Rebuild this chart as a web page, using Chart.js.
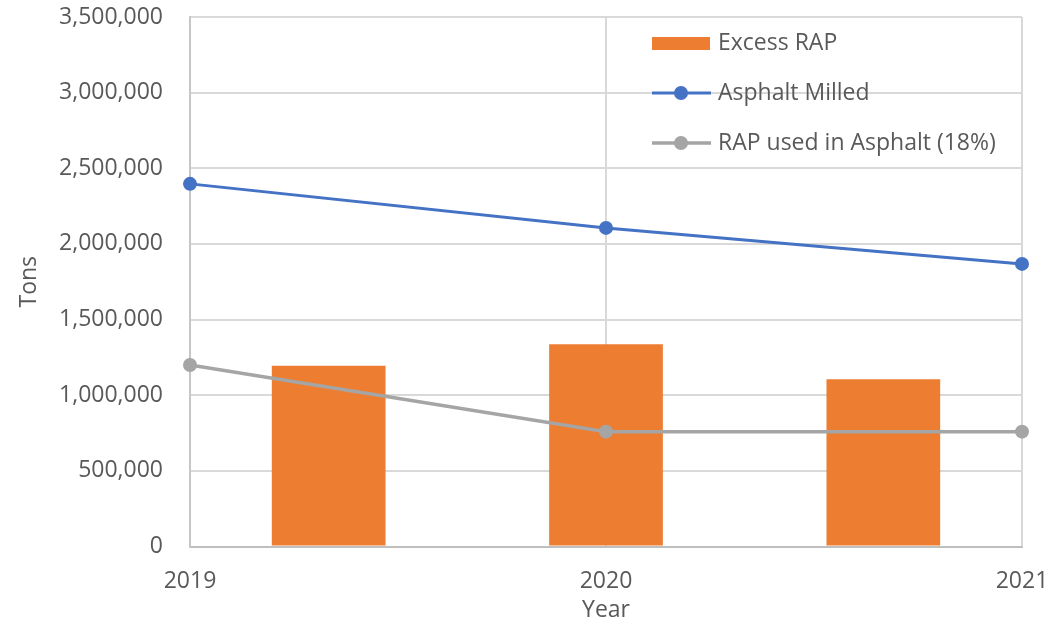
<!DOCTYPE html>
<html>
<head>
<meta charset="utf-8">
<script src="https://cdn.jsdelivr.net/npm/chart.js@4/dist/chart.umd.min.js"></script>
<style>
  html, body { margin: 0; padding: 0; background: #fff; }
</style>
</head>
<body>
<canvas id="chart" width="1059" height="627"></canvas>
<script>
const years = ['2019', '2020', '2021'];
const excessRap = [1195000, 1337000, 1106000];
const asphaltMilled = [2397000, 2106000, 1868000];
const rapUsed = [1200000, 759000, 759000];
const yMax = 3500000;
const yStep = 500000;

const textColor = '#595959';
const gridColor = '#d9d9d9';
const fontFamily = '"Open Sans", sans-serif';
const fontSize = 23;

// legend drawn inside the plot area, top right
const insideLegend = {
  id: 'insideLegend',
  afterDraw(chart) {
    const { ctx, chartArea } = chart;
    const x0 = chartArea.right - 370;
    ctx.save();
    ctx.font = `${fontSize}px ${fontFamily}`;
    ctx.textBaseline = 'middle';
    chart.data.datasets.forEach((ds, i) => {
      const y = chartArea.top + 26 + i * 50;
      if (ds.type === 'bar') {
        ctx.fillStyle = ds.backgroundColor;
        ctx.fillRect(x0, y - 6, 58, 13);
      } else {
        ctx.strokeStyle = ds.borderColor;
        ctx.lineWidth = ds.borderWidth;
        ctx.beginPath();
        ctx.moveTo(x0, y);
        ctx.lineTo(x0 + 59, y);
        ctx.stroke();
        ctx.fillStyle = ds.pointBackgroundColor;
        ctx.beginPath();
        ctx.arc(x0 + 29, y, ds.pointRadius, 0, Math.PI * 2);
        ctx.fill();
      }
      ctx.fillStyle = textColor;
      ctx.fillText(ds.label, x0 + 66, y);
    });
    ctx.restore();
  }
};

new Chart(document.getElementById('chart'), {
  type: 'bar',
  data: {
    labels: years,
    datasets: [
      {
        type: 'bar',
        label: 'Excess RAP',
        data: excessRap,
        backgroundColor: '#ED7D31',
        xAxisID: 'x',
        grouped: false,
        barPercentage: 0.41,
        categoryPercentage: 1,
        order: 2,
      },
      {
        type: 'line',
        label: 'Asphalt Milled',
        data: asphaltMilled,
        borderColor: '#4472C4',
        backgroundColor: '#4472C4',
        pointBackgroundColor: '#4472C4',
        pointBorderWidth: 0,
        pointRadius: 7,
        borderWidth: 3,
        xAxisID: 'xLine',
        clip: false,
        order: 1,
      },
      {
        type: 'line',
        label: 'RAP used in Asphalt (18%)',
        data: rapUsed,
        borderColor: '#A5A5A5',
        backgroundColor: '#A5A5A5',
        pointBackgroundColor: '#A5A5A5',
        pointBorderWidth: 0,
        pointRadius: 7,
        borderWidth: 3.5,
        xAxisID: 'xLine',
        clip: false,
        order: 1,
      },
    ],
  },
  options: {
    responsive: false,
    animation: false,
    layout: { padding: { top: 17, right: 37, left: 0, bottom: 0 } },
    plugins: {
      legend: { display: false },
      tooltip: { enabled: false },
    },
    scales: {
      x: {
        type: 'category',
        position: 'bottom',
        offset: true,
        grid: { display: false, drawTicks: false },
        border: { display: false },
        ticks: { display: false },
        afterFit: (s) => { s.height = 0; s.paddingLeft = 0; s.paddingRight = 0; },
      },
      xLine: {
        type: 'category',
        position: 'bottom',
        offset: false,
        afterFit: (s) => { s.height = 80.5; s.paddingLeft = 0; s.paddingRight = 0; },
        grid: { color: gridColor, lineWidth: 2, drawTicks: false, offset: false },
        border: { color: '#bfbfbf', width: 2 },
        ticks: { color: textColor, font: { family: fontFamily, size: fontSize }, padding: 21, maxRotation: 0 },
        title: {
          display: true,
          text: 'Year',
          color: textColor,
          font: { family: fontFamily, size: fontSize },
          padding: { top: 0, bottom: 3 },
        },
      },
      y: {
        min: 0,
        max: yMax,
        afterFit: (s) => { s.width = 190; s.paddingTop = 0; s.paddingBottom = 0; },
        grid: { color: gridColor, lineWidth: 2, drawTicks: false },
        border: { color: '#c6c6c6', width: 2 },
        ticks: {
          stepSize: yStep,
          color: textColor,
          font: { family: fontFamily, size: fontSize },
          padding: 27,
          callback: (v) => v.toLocaleString('en-US'),
        },
        title: {
          display: true,
          text: 'Tons',
          color: textColor,
          font: { family: fontFamily, size: fontSize },
          padding: { top: 16, bottom: 0 },
        },
      },
    },
  },
  plugins: [insideLegend],
});
</script>
</body>
</html>
